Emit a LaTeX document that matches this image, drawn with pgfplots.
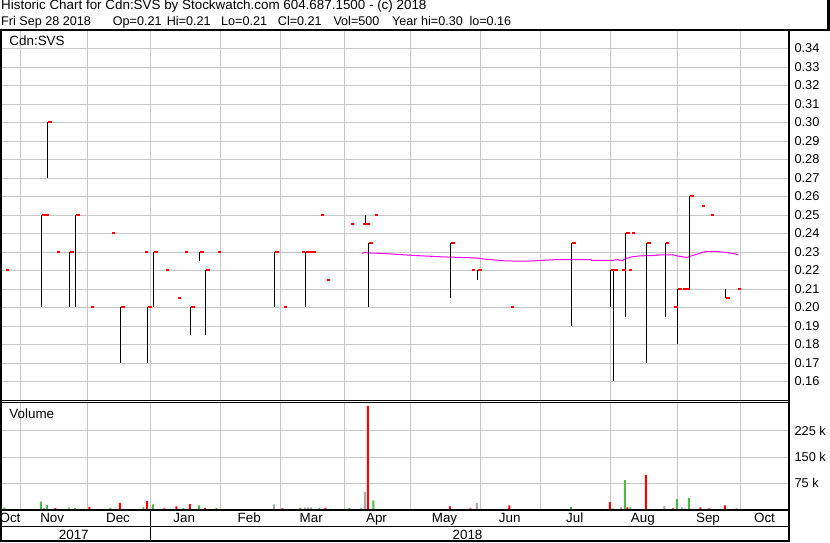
\documentclass[border=0pt]{standalone}
\usepackage{pgfplots}
\pgfplotsset{compat=1.18}
\usepackage{pgfplotstable}
\usepackage{fontspec}
\setmainfont{Liberation Sans}
\definecolor{gridgray}{RGB}{200,200,200}
\definecolor{volgreen}{RGB}{76,184,72}
\definecolor{volgray}{RGB}{168,168,168}
\definecolor{tickred}{RGB}{255,0,0}
\definecolor{mamag}{RGB}{255,0,255}

\pgfdeclareplotmark{cltick}{%
  \pgfpathrectangle{\pgfpoint{0.5bp}{-1bp}}{\pgfpoint{3.5bp}{2bp}}%
  \pgfusepathqfill}

% day position (px), low, high, close
\pgfplotstableread{
x lo hi cl
4.7 0.22 0.22 0.22
41.3 0.20 0.25 0.25
44.5 0.25 0.25 0.25
47.3 0.27 0.30 0.30
55.7 0.23 0.23 0.23
69.3 0.20 0.23 0.23
75.3 0.20 0.25 0.25
89.7 0.20 0.20 0.20
110.7 0.24 0.24 0.24
120.3 0.17 0.20 0.20
143.7 0.23 0.23 0.23
147.3 0.17 0.20 0.20
153.3 0.20 0.23 0.23
164.7 0.22 0.22 0.22
176.7 0.205 0.205 0.205
183.7 0.23 0.23 0.23
190.3 0.185 0.20 0.20
199.3 0.225 0.23 0.23
205.3 0.185 0.22 0.22
216.7 0.23 0.23 0.23
274.3 0.20 0.23 0.23
282.7 0.20 0.20 0.20
300.7 0.23 0.23 0.23
305.3 0.20 0.23 0.23
308.5 0.23 0.23 0.23
311.6 0.23 0.23 0.23
319.7 0.25 0.25 0.25
325.7 0.215 0.215 0.215
349.7 0.245 0.245 0.245
361.7 0.245 0.245 0.245
365.3 0.245 0.25 0.245
368.3 0.20 0.235 0.235
373.7 0.25 0.25 0.25
450.3 0.205 0.235 0.235
470.7 0.22 0.22 0.22
477.3 0.215 0.22 0.22
509.7 0.20 0.20 0.20
571.3 0.19 0.235 0.235
610.3 0.20 0.22 0.22
613.0 0.16 0.22 0.22
621.4 0.22 0.22 0.22
625.3 0.195 0.24 0.24
627.8 0.22 0.22 0.22
630.8 0.24 0.24 0.24
646.3 0.17 0.235 0.235
664.7 0.195 0.235 0.235
673.4 0.20 0.20 0.20
677.3 0.18 0.21 0.21
682.4 0.21 0.21 0.21
685.5 0.21 0.21 0.21
689.3 0.21 0.26 0.26
700.7 0.255 0.255 0.255
709.7 0.25 0.25 0.25
725.3 0.205 0.21 0.205
736.7 0.21 0.21 0.21
}\ohlc

\pgfplotstableread{
x vol
4.7 4000
41.3 21000
47.3 11500
75.3 3000
110.7 3000
143.7 5000
153.3 13500
183.7 3000
199.3 10700
216.7 3000
300.7 3000
319.7 3000
349.7 3000
373.7 25000
571.3 5800
625.3 83000
630.8 5000
677.3 29000
689.3 32000
736.7 2000
}\volup

\pgfplotstableread{
x vol
55.7 3000
89.7 5800
120.3 18000
147.3 23000
164.7 2000
176.7 7800
190.3 14400
205.3 3000
282.7 2000
325.7 3000
368.3 297000
450.3 7800
470.7 2000
509.7 10700
610.3 20000
627.8 5000
646.3 98000
673.4 2000
700.7 5000
709.7 2000
725.3 10700
}\voldown

\pgfplotstableread{
x vol
44.5 3000
69.3 5000
274.3 13500
305.3 4000
308.5 5000
311.6 5000
361.7 4000
365.3 49000
477.3 17000
613.0 3000
621.4 5000
664.7 8700
682.4 5000
685.5 2000
}\volflat

\newcommand{\tfont}{\fontsize{13.4bp}{15bp}\selectfont}
\newcommand{\sfont}{\fontsize{12.6bp}{15bp}\selectfont}

\begin{document}
\begin{tikzpicture}[x=1bp,y=1bp]
\path[use as bounding box] (0,0) rectangle (830,543);
\fill[white] (0,0) rectangle (830,543);

% ---------------- price panel ----------------
\begin{axis}[
  at={(2bp,143bp)}, anchor=south west,
  scale only axis, width=787bp, height=370bp,
  xmin=2, xmax=789, ymin=0.15, ymax=0.35,
  axis line style={draw=none},
  xtick={20.7,87.3,150.3,220.3,280.3,344.3,410,480.7,540,610.3,677.7,740.7},
  xticklabels=\empty,
  ytick={0.16,0.17,0.18,0.19,0.20,0.21,0.22,0.23,0.24,0.25,0.26,0.27,0.28,0.29,0.30,0.31,0.32,0.33,0.34},
  xmajorgrids, ymajorgrids,
  grid style={gridgray, line width=0.9bp},
  major tick length=0pt,
  yticklabel pos=right,
  yticklabel style={font=\fontsize{12.8bp}{14bp}\selectfont, anchor=west, inner sep=0pt, xshift=5.3bp},
  /pgf/number format/.cd, fixed, fixed zerofill, precision=2, assume math mode=true,
]
\addplot[color=mamag, line width=1bp, mark=none] coordinates {
(362,0.2292) (365,0.2299) (368.3,0.2295) (383,0.2292) (403,0.2285) (422,0.2279)
(441,0.2274) (475,0.2268) (484,0.2262) (494,0.2257) (505,0.2252) (526,0.2250)
(540,0.2254) (557,0.2259) (590,0.2259) (592,0.2254) (612,0.2254) (618,0.2259)
(621.7,0.2252) (626,0.2265) (632,0.2274) (640,0.2279) (653,0.2281) (663,0.2285)
(673,0.2285) (677,0.2279) (687,0.2270) (690,0.2277) (697,0.2288) (703,0.2299)
(707,0.2303) (717,0.2303) (727,0.2297) (733,0.2292) (738.3,0.2286)};
\addplot[draw=none, mark=none,
  error bars/.cd, y dir=plus, y explicit, error mark=none,
  error bar style={draw=black, solid, line width=1bp}]
  table[x expr=\thisrow{x}+0.5, y=lo, y error expr=\thisrow{hi}-\thisrow{lo}] {\ohlc};
\addplot[only marks, mark=cltick, mark options={draw=none, fill=tickred}]
  table[x expr=\thisrow{x}+0.5, y=cl] {\ohlc};
\end{axis}

% ---------------- volume panel ----------------
\begin{axis}[
  at={(2bp,34bp)}, anchor=south west,
  scale only axis, width=787bp, height=106.5bp,
  xmin=2, xmax=789, ymin=0, ymax=307000,
  axis line style={draw=none},
  xtick={20.7,87.3,150.3,220.3,280.3,344.3,410,480.7,540,610.3,677.7,740.7},
  xticklabels=\empty,
  extra x ticks={10,52.2,118,184.2,249.2,311.2,376.5,444.5,509.7,574.7,642.8,708,764.5},
  extra x tick labels={Oct,Nov,Dec,Jan,Feb,Mar,Apr,May,Jun,Jul,Aug,Sep,Oct},
  extra x tick style={grid=none, major tick length=0pt,
     xticklabel style={font=\tfont, anchor=base, inner sep=0pt, yshift=-14bp}},
  ytick={75000,150000,225000},
  yticklabels={75 k,150 k,225 k},
  scaled y ticks=false,
  xmajorgrids, ymajorgrids,
  grid style={gridgray, line width=0.9bp},
  major tick length=0pt,
  yticklabel pos=right,
  yticklabel style={font=\fontsize{12.8bp}{14bp}\selectfont, anchor=west, inner sep=0pt, xshift=5.3bp},
]
\addplot[ybar, bar width=2bp, bar shift=0pt, fill=volgreen, draw=none]
  table[x expr=\thisrow{x}-0.4, y=vol] {\volup};
\addplot[ybar, bar width=2bp, bar shift=0pt, fill=tickred, draw=none]
  table[x expr=\thisrow{x}-0.4, y=vol] {\voldown};
\addplot[ybar, bar width=2bp, bar shift=0pt, fill=volgray, draw=none]
  table[x expr=\thisrow{x}-0.4, y=vol] {\volflat};
\end{axis}

% ---------------- frame ----------------
\draw[line width=2bp] (0,513) -- (830,513);
\draw[line width=3bp] (828.5,513) -- (828.5,543);
\draw[line width=2bp] (1,1) -- (1,513);
\draw[line width=2bp] (789.3,1) -- (789.3,513);
\draw[line width=1bp] (0,142.7) -- (789,142.7);
\draw[line width=1bp] (0,140.7) -- (789,140.7);
\draw[line width=1.6bp] (0,33.2) -- (789,33.2);
\draw[line width=1.4bp] (0,16.6) -- (789,16.6);
\draw[line width=2bp] (0,2) -- (790.3,2);
\draw[line width=1.4bp] (150.3,2) -- (150.3,33.2);

% ---------------- texts ----------------
\node[anchor=base west, inner sep=0pt, font=\tfont] at (1,533)
  {Historic Chart for Cdn:SVS by Stockwatch.com 604.687.1500 - (c) 2018};
\node[anchor=base west, inner sep=0pt, font=\sfont] at (1,517) {Fri Sep 28 2018};
\node[anchor=base west, inner sep=0pt, font=\sfont] at (112.7,517) {Op=0.21};
\node[anchor=base west, inner sep=0pt, font=\sfont] at (166.7,517) {Hi=0.21};
\node[anchor=base west, inner sep=0pt, font=\sfont] at (221,517) {Lo=0.21};
\node[anchor=base west, inner sep=0pt, font=\sfont] at (277.7,517) {Cl=0.21};
\node[anchor=base west, inner sep=0pt, font=\sfont] at (333.3,517) {Vol=500};
\node[anchor=base west, inner sep=0pt, font=\sfont] at (392,517) {Year hi=0.30};
\node[anchor=base west, inner sep=0pt, font=\sfont] at (469.3,517) {lo=0.16};
\node[anchor=base west, inner sep=0pt, font=\tfont] at (9.3,497.3) {Cdn:SVS};
\node[anchor=base west, inner sep=0pt, font=\tfont] at (9.3,124.7) {Volume};
\node[anchor=base, inner sep=0pt, font=\tfont] at (73.8,3.5) {2017};
\node[anchor=base, inner sep=0pt, font=\tfont] at (467.5,3.5) {2018};
\end{tikzpicture}
\end{document}
